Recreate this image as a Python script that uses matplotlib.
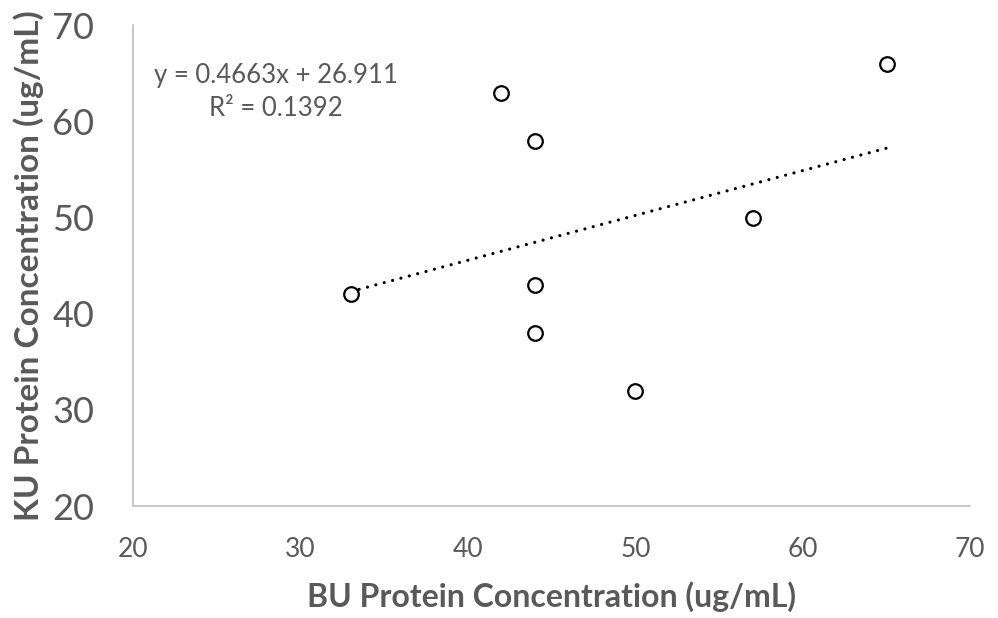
import matplotlib
matplotlib.use("Agg")
import matplotlib.pyplot as plt
import numpy as np

plt.rcParams["font.family"] = ["Lato", "DejaVu Sans"]

# BU vs KU protein concentration (ug/mL)
bu_conc = [33, 42, 44, 44, 44, 50, 57, 65]
ku_conc = [42, 63, 58, 43, 38, 32, 50, 66]
x_ticks = [20, 30, 40, 50, 60, 70]
y_ticks = [20, 30, 40, 50, 60, 70]

GRAY = "#595959"
SPINE = "#BFBFBF"

x = np.array(bu_conc, dtype=float)
y = np.array(ku_conc, dtype=float)
slope, intercept = np.polyfit(x, y, 1)
r2 = np.corrcoef(x, y)[0, 1] ** 2

fig = plt.figure(figsize=(9.98, 6.18), dpi=100)
ax = fig.add_axes([0.1333, 0.1812, 0.839, 0.778])

xs = np.array([x.min(), x.max()])
ax.plot(xs, slope * xs + intercept, color="black", lw=2.3,
        linestyle=(0, (0.01, 2.7)), dash_capstyle="round", zorder=2)
ax.plot(x, y, "o", ms=10.5, mfc="white", mec="black", mew=1.6, zorder=3)

ax.set_xlim(20, 70)
ax.set_ylim(20, 70)
ax.set_xticks(x_ticks)
ax.set_yticks(y_ticks)
ax.tick_params(axis="both", length=0, colors=GRAY)
ax.tick_params(axis="x", labelsize=19, pad=22)
ax.tick_params(axis="y", labelsize=26, pad=28)
for s in ["top", "right"]:
    ax.spines[s].set_visible(False)
for s in ["left", "bottom"]:
    ax.spines[s].set_color(SPINE)
    ax.spines[s].set_linewidth(1.2)

ax.set_xlabel("BU Protein Concentration (ug/mL)", fontsize=23, fontweight="bold",
              color=GRAY, labelpad=14)
ax.set_ylabel("KU Protein Concentration (ug/mL)", fontsize=24, fontweight="bold",
              color=GRAY, labelpad=6)

ax.text(0.171, 0.896, f"y = {slope:.4f}x + {intercept:.3f}",
        transform=ax.transAxes, ha="center", va="center", fontsize=18.5, color=GRAY)
ax.text(0.171, 0.827, f"R² = {r2:.4f}",
        transform=ax.transAxes, ha="center", va="center", fontsize=18.5, color=GRAY)

fig.savefig("out.png", dpi=100)
